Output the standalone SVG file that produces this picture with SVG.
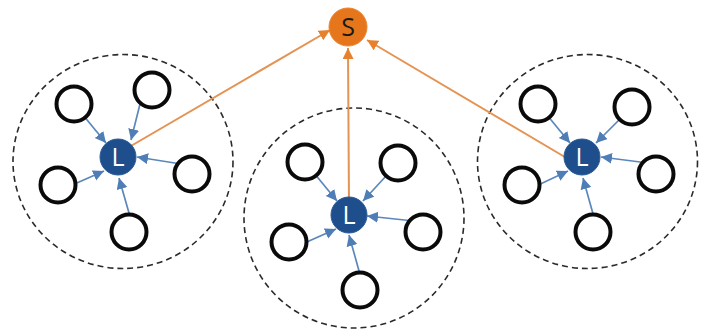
<svg xmlns="http://www.w3.org/2000/svg" width="712" height="331" viewBox="0 0 712 331">
<style>
.member{fill:#fff;stroke:#0a0a0a;stroke-width:4}
.cluster{fill:none;stroke:#2a2a2a;stroke-width:1.6;stroke-dasharray:6 4}
.leader{fill:#1f4e8c;stroke:#2a5a98;stroke-width:1}
.sink{fill:#e6761c;stroke:#e9862f;stroke-width:1}
.blue{stroke:#5b87bd;stroke-width:1.7;fill:none;marker-end:url(#ab)}
.orange{stroke:#e59353;stroke-width:2;fill:none;marker-end:url(#ao)}
text{font-family:"Open Sans","Noto Sans",sans-serif;font-size:25px;text-anchor:middle}
</style>
<defs>
<marker id="ab" markerUnits="userSpaceOnUse" markerWidth="12" markerHeight="12" refX="11" refY="5.5" orient="auto"><path d="M0 0L11 5.5L0 11Z" fill="#4f7db6"/></marker>
<marker id="ao" markerUnits="userSpaceOnUse" markerWidth="12" markerHeight="12" refX="11" refY="5.5" orient="auto"><path d="M0 0L11 5.5L0 11Z" fill="#e8812c"/></marker>
</defs>
<g id="clusters">
<ellipse id="cluster-left" class="cluster" cx="123" cy="161.5" rx="110" ry="107"/>
<ellipse id="cluster-middle" class="cluster" cx="354" cy="218" rx="110" ry="110"/>
<ellipse id="cluster-right" class="cluster" cx="587.5" cy="161.5" rx="110" ry="107"/>
</g>
<g id="connectors">
<line class="orange" x1="124" y1="150" x2="330" y2="30"/>
<line class="orange" x1="349" y1="205" x2="348" y2="48"/>
<line class="orange" x1="575" y1="163" x2="367" y2="40"/>
<line class="blue" x1="74" y1="104" x2="106" y2="143"/>
<line class="blue" x1="141" y1="100" x2="131" y2="140"/>
<line class="blue" x1="181" y1="164" x2="137" y2="157"/>
<line class="blue" x1="131" y1="220" x2="119" y2="178"/>
<line class="blue" x1="70" y1="186" x2="104" y2="171"/>
<line class="blue" x1="305" y1="162" x2="337" y2="201"/>
<line class="blue" x1="398" y1="163" x2="363" y2="201"/>
<line class="blue" x1="414" y1="221" x2="367" y2="216"/>
<line class="blue" x1="361" y1="278" x2="349" y2="235"/>
<line class="blue" x1="300" y1="245" x2="336" y2="229"/>
<line class="blue" x1="538" y1="104" x2="570" y2="143"/>
<line class="blue" x1="632" y1="107" x2="596" y2="143"/>
<line class="blue" x1="648" y1="163" x2="601" y2="157"/>
<line class="blue" x1="595" y1="221" x2="583" y2="178"/>
<line class="blue" x1="534" y1="187" x2="568" y2="171"/>
</g>
<g id="node-s"><circle class="sink" cx="348" cy="27" r="19"/><text x="348" y="36" fill="#1a1a1a">S</text></g>
<g id="left-leader"><circle class="leader" cx="118" cy="157" r="18"/><text x="118" y="166" fill="#fff">L</text></g>
<g id="left-1"><circle class="member" cx="74" cy="104" r="17.5"/></g>
<g id="left-2"><circle class="member" cx="152" cy="90" r="17.5"/></g>
<g id="left-3"><circle class="member" cx="192" cy="174" r="17.5"/></g>
<g id="left-4"><circle class="member" cx="129" cy="232" r="17.5"/></g>
<g id="left-5"><circle class="member" cx="58" cy="185" r="17.5"/></g>
<g id="middle-leader"><circle class="leader" cx="349" cy="215" r="18"/><text x="349" y="224" fill="#fff">L</text></g>
<g id="middle-1"><circle class="member" cx="305" cy="162" r="17.5"/></g>
<g id="middle-2"><circle class="member" cx="398" cy="163" r="17.5"/></g>
<g id="middle-3"><circle class="member" cx="423" cy="232" r="17.5"/></g>
<g id="middle-4"><circle class="member" cx="360" cy="290" r="17.5"/></g>
<g id="middle-5"><circle class="member" cx="289" cy="242" r="17.5"/></g>
<g id="right-leader"><circle class="leader" cx="582" cy="157" r="18"/><text x="582" y="166" fill="#fff">L</text></g>
<g id="right-1"><circle class="member" cx="538" cy="104" r="17.5"/></g>
<g id="right-2"><circle class="member" cx="632" cy="107" r="17.5"/></g>
<g id="right-3"><circle class="member" cx="656" cy="174" r="17.5"/></g>
<g id="right-4"><circle class="member" cx="593" cy="232" r="17.5"/></g>
<g id="right-5"><circle class="member" cx="522" cy="185" r="17.5"/></g>
</svg>
